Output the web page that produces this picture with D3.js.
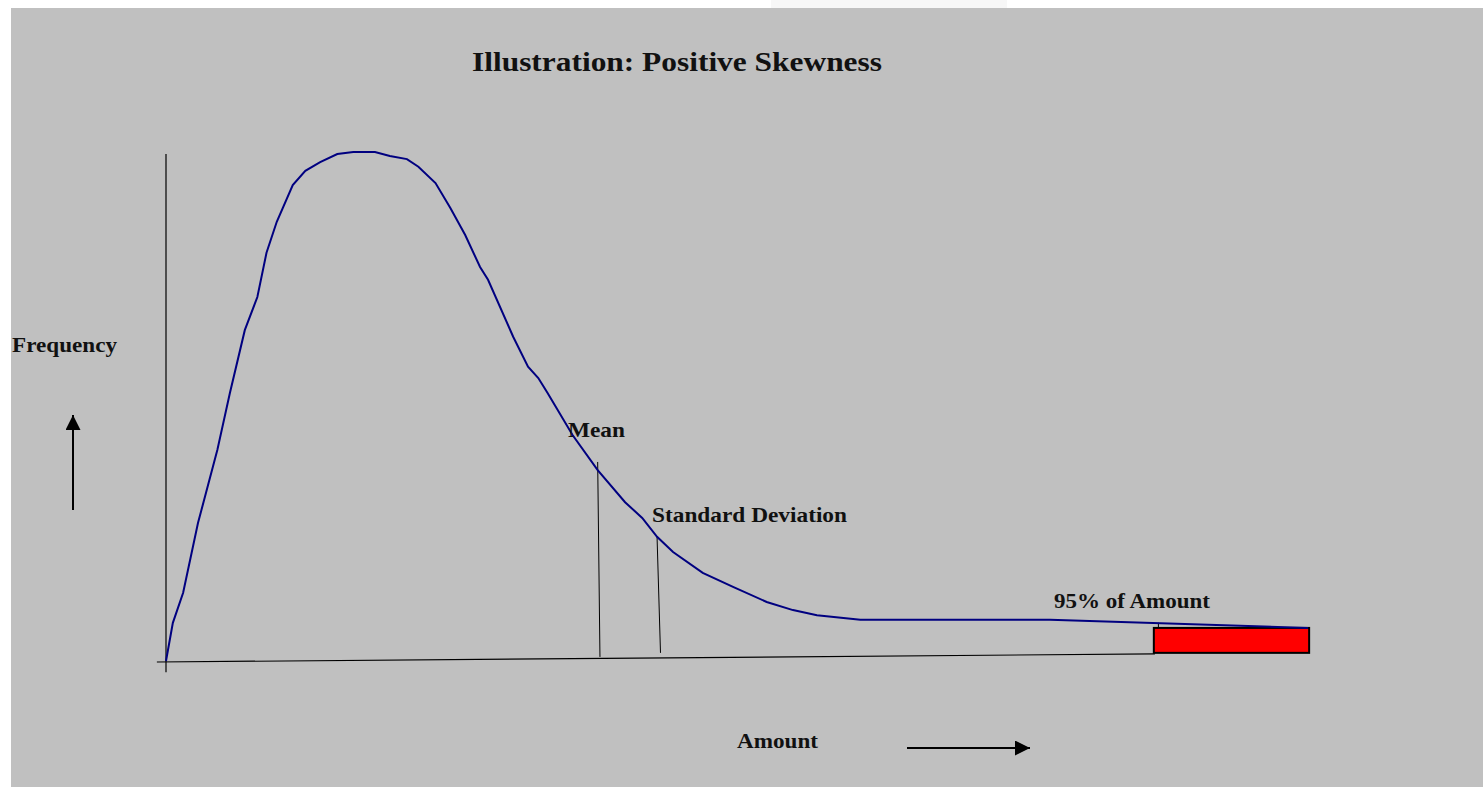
<!DOCTYPE html>
<html>
<head>
<meta charset="utf-8">
<script src="https://cdn.jsdelivr.net/npm/d3@7"></script>
<style>
  html, body { margin: 0; padding: 0; background: #fff; }
  svg { display: block; }
</style>
</head>
<body>
<svg id="chart"></svg>
<script>
// Curve of the skewed distribution: [amount, frequency], both on a 0-100 scale
const curveAmount = [0, 0.6, 1.5, 2.8, 4.5, 5.6, 6.9, 8.0, 8.8, 9.7, 11.1, 12.2, 13.5, 15.0, 16.4, 18.3,
  19.6, 21.1, 22.1, 23.6, 24.9, 26.2, 27.5, 28.2, 30.4, 31.7, 32.6, 33.4, 35.6, 37.8, 40.2, 41.7,
  43.0, 44.4, 47.0, 49.7, 52.6, 54.9, 57.0, 60.8, 77.4, 100];
const curveFrequency = [0, 7.5, 13.4, 27.1, 41.5, 52.7, 65.0, 71.5, 80.2, 86.3, 93.5, 96.3, 98.0, 99.6, 100, 100,
  99.2, 98.6, 97.1, 93.9, 89.0, 83.7, 77.4, 74.9, 63.7, 57.8, 55.6, 52.7, 44.4, 37.5, 31.2, 28.1,
  24.4, 21.4, 17.3, 14.5, 11.6, 10.0, 9.0, 8.1, 8.1, 6.5];

// Marker lines: [amount at top, frequency at top, amount at bottom, frequency at bottom]
const markerNames = ['Mean', 'Standard Deviation'];
const markerLines = [[37.8, 39.1, 38.0, 0.8], [43.0, 24.4, 43.3, 1.6]];

// Shaded 95% region: amount from/to, frequency from/to
const tailRegion = [86.5, 100.1, 1.6, 6.5];
const tailTick = [86.9, 6.5, 7.5];

// The drawn x axis is slightly tilted: [amount, frequency] at each end
const xAxisEnds = [[-0.8, -0.2], [86.6, 1.4]];
const yAxisEnds = [[0, -2.2], [0, 99.6]];

const W = 1483, H = 787;
const svg = d3.select('#chart').attr('width', W).attr('height', H);

svg.append('rect').attr('x', 771).attr('y', 0).attr('width', 236).attr('height', 8).attr('fill', '#f7f7f7');
svg.append('rect').attr('x', 11).attr('y', 8).attr('width', W - 11).attr('height', H - 8).attr('fill', '#c0c0c0');

const x = d3.scaleLinear().domain([0, 100]).range([166, 1308]);
const y = d3.scaleLinear().domain([0, 100]).range([661, 152]);

const font = "'Liberation Serif', 'Times New Roman', serif";

// axes
svg.append('line')
  .attr('x1', x(yAxisEnds[0][0])).attr('y1', y(yAxisEnds[0][1]))
  .attr('x2', x(yAxisEnds[1][0])).attr('y2', y(yAxisEnds[1][1]))
  .attr('stroke', '#000').attr('stroke-width', 1.2);
svg.append('line')
  .attr('x1', x(xAxisEnds[0][0])).attr('y1', y(xAxisEnds[0][1]))
  .attr('x2', x(xAxisEnds[1][0])).attr('y2', y(xAxisEnds[1][1]))
  .attr('stroke', '#000').attr('stroke-width', 1.2);

// mean / sd lines
svg.selectAll('line.marker').data(markerLines).join('line')
  .attr('class', 'marker')
  .attr('x1', d => x(d[0])).attr('y1', d => y(d[1]))
  .attr('x2', d => x(d[2])).attr('y2', d => y(d[3]))
  .attr('stroke', '#000').attr('stroke-width', 1);

// tail region
svg.append('rect')
  .attr('x', x(tailRegion[0])).attr('y', y(tailRegion[3]))
  .attr('width', x(tailRegion[1]) - x(tailRegion[0]))
  .attr('height', y(tailRegion[2]) - y(tailRegion[3]))
  .attr('fill', '#ff0000').attr('stroke', '#000').attr('stroke-width', 2);
svg.append('line')
  .attr('x1', x(tailTick[0])).attr('x2', x(tailTick[0]))
  .attr('y1', y(tailTick[1])).attr('y2', y(tailTick[2]))
  .attr('stroke', '#000').attr('stroke-width', 1);

// curve
const points = curveAmount.map((a, i) => [a, curveFrequency[i]]);
const line = d3.line().x(d => x(d[0])).y(d => y(d[1]));
svg.append('path').datum(points)
  .attr('d', line)
  .attr('fill', 'none').attr('stroke', '#000080').attr('stroke-width', 2);

// texts
function label(txt, px, py, size, len) {
  svg.append('text').text(txt)
    .attr('x', px).attr('y', py)
    .attr('font-family', font).attr('font-weight', 'bold')
    .attr('font-size', size).attr('fill', '#111')
    .attr('textLength', len).attr('lengthAdjust', 'spacingAndGlyphs');
}
label('Illustration: Positive Skewness', 472, 71, 27, 410);
label('Frequency', 12, 352, 21, 105);
label(markerNames[0], 568, 437, 21, 57);
label(markerNames[1], 652, 522, 21, 195);
label('95% of Amount', 1054, 608, 21, 156);
label('Amount', 737, 748, 21, 81);

// direction arrows
svg.append('defs').append('marker')
  .attr('id', 'head').attr('viewBox', '0 0 10 10')
  .attr('refX', 10).attr('refY', 5)
  .attr('markerWidth', 15).attr('markerHeight', 15)
  .attr('markerUnits', 'userSpaceOnUse')
  .attr('orient', 'auto')
  .append('path').attr('d', 'M0,0L10,5L0,10Z').attr('fill', '#000');

svg.append('line').attr('x1', 73).attr('y1', 510).attr('x2', 73).attr('y2', 415)
  .attr('stroke', '#000').attr('stroke-width', 2).attr('marker-end', 'url(#head)');
svg.append('line').attr('x1', 907).attr('y1', 748).attr('x2', 1030).attr('y2', 748)
  .attr('stroke', '#000').attr('stroke-width', 2).attr('marker-end', 'url(#head)');
</script>
</body>
</html>
